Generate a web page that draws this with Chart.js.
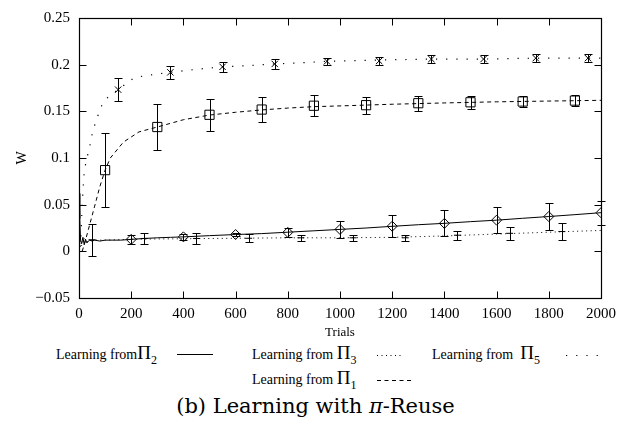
<!DOCTYPE html>
<html><head><meta charset="utf-8">
<script src="https://cdn.jsdelivr.net/npm/chart.js@4.4.1/dist/chart.umd.min.js"></script>
<style>
html,body{margin:0;padding:0;background:#fff;}
#wrap{position:relative;width:631px;height:427px;overflow:hidden;background:#fff;}
canvas{position:absolute;left:0;top:0;}
.lg{position:absolute;font-family:"Liberation Serif","Times New Roman",serif;font-size:14px;color:#000;white-space:nowrap;line-height:20px;height:20px;}
.pi{font-size:19px;}
.sub{font-size:12px;position:relative;top:5px;}
svg.smp{position:absolute;overflow:visible;}
#cap{position:absolute;left:0;width:631px;text-align:center;top:393px;font-family:"DejaVu Serif",serif;font-size:21px;color:#000;line-height:26px;}
</style></head>
<body>
<div id="wrap">
<canvas id="c" width="631" height="340"></canvas>
<div class="lg" style="left:56px;top:343px;">Learning from<span class="pi">Π</span><span class="sub">2</span></div>
<svg class="smp" style="left:177px;top:354px;" width="36" height="2"><line x1="0" y1="0.5" x2="36" y2="0.5" stroke="#000" stroke-width="1"/></svg>
<div class="lg" style="left:252px;top:343px;">Learning from <span class="pi">Π</span><span class="sub">3</span></div>
<svg class="smp" style="left:377px;top:355px;" width="26" height="2"><line x1="0" y1="0.5" x2="26" y2="0.5" stroke="#000" stroke-width="1" stroke-dasharray="1,3.5"/></svg>
<div class="lg" style="left:432px;top:343px;">Learning from &nbsp;<span class="pi">Π</span><span class="sub">5</span></div>
<svg class="smp" style="left:566px;top:355px;" width="36" height="2"><line x1="0" y1="0.5" x2="36" y2="0.5" stroke="#000" stroke-width="1.2" stroke-dasharray="1.2,9"/></svg>
<div class="lg" style="left:252px;top:368px;">Learning from <span class="pi">Π</span><span class="sub">1</span></div>
<svg class="smp" style="left:377px;top:380px;" width="36" height="2"><line x1="0" y1="0.5" x2="36" y2="0.5" stroke="#000" stroke-width="1" stroke-dasharray="4,3.5"/></svg>
<div id="cap">(b) Learning with <i>π</i>-Reuse</div>
</div>
<script>
// ---- tick labels ----
const xTickLabels = ["0","200","400","600","800","1000","1200","1400","1600","1800","2000"];
const yTickLabels = ["\u22120.05","0","0.05","0.1","0.15","0.2","0.25"];

// ---- Learning from Π2 (solid line, diamonds) ----
const pi2LineX = [0, 3, 6, 10, 15, 20, 25, 30, 40, 50, 60, 80, 100, 130, 160, 200, 250, 300, 350, 400, 500, 600, 700, 800, 900, 1000, 1100, 1200, 1300, 1400, 1500, 1600, 1700, 1800, 1900, 2000];
const pi2LineY = [0.062, 0.035, 0.012, 0.008, 0.015, 0.007, 0.013, 0.009, 0.012, 0.011, 0.012, 0.011, 0.012, 0.012, 0.012, 0.0128, 0.0138, 0.0145, 0.015, 0.0155, 0.0168, 0.018, 0.019, 0.0205, 0.022, 0.0235, 0.025, 0.0268, 0.0285, 0.030, 0.0318, 0.0334, 0.0354, 0.0373, 0.0393, 0.0414];
const pi2MarkX = [200, 400, 600, 800, 1000, 1200, 1400, 1600, 1800, 2000];
const pi2MarkY = [0.0128, 0.0155, 0.018, 0.0203, 0.0235, 0.0269, 0.030, 0.0334, 0.0373, 0.0414];
const pi2Err   = [0.005, 0.003, 0.002, 0.005, 0.009, 0.012, 0.014, 0.014, 0.014, 0.013];

// ---- Learning from Π3 (fine dotted line, + markers) ----
const pi3LineX = [0, 5, 10, 20, 30, 50, 100, 200, 400, 600, 800, 1000, 1200, 1400, 1600, 1800, 2000];
const pi3LineY = [0.003, 0.012, 0.006, 0.014, 0.010, 0.012, 0.012, 0.013, 0.0135, 0.014, 0.0145, 0.0145, 0.015, 0.0165, 0.0185, 0.0205, 0.0224];
const pi3MarkX = [50, 250, 450, 650, 850, 1050, 1250, 1450, 1650, 1850];
const pi3MarkY = [0.0124, 0.0138, 0.0138, 0.014, 0.0145, 0.0145, 0.0145, 0.0173, 0.0193, 0.0212];
const pi3Err   = [0.017, 0.0057, 0.006, 0.0045, 0.003, 0.003, 0.003, 0.005, 0.007, 0.009];

// ---- Learning from Π1 (dashed line, squares) ----
const pi1LineX = [12, 20, 27, 40, 60, 80, 100, 120, 170, 230, 300, 400, 500, 600, 700, 800, 900, 1000, 1200, 1400, 1600, 1800, 2000];
const pi1LineY = [0.0, 0.007, 0.014, 0.0276, 0.0485, 0.0695, 0.087, 0.100, 0.117, 0.128, 0.1332, 0.141, 0.146, 0.149, 0.1515, 0.1535, 0.155, 0.1558, 0.1576, 0.159, 0.1602, 0.161, 0.1618];
const pi1MarkX = [100, 300, 500, 700, 900, 1100, 1300, 1500, 1700, 1900];
const pi1MarkY = [0.087, 0.1332, 0.1463, 0.1519, 0.156, 0.1566, 0.1587, 0.1597, 0.1605, 0.1615];
const pi1Err   = [0.04, 0.025, 0.017, 0.013, 0.011, 0.009, 0.008, 0.007, 0.006, 0.006];

// ---- Learning from Π5 (sparse dotted line, x markers) ----
const pi5LineX = [5, 8, 12, 20, 30, 40, 46, 65, 91, 114, 150, 187, 211, 250, 300, 350, 450, 550, 650, 750, 850, 950, 1150, 1350, 1550, 1750, 1950, 2000];
const pi5LineY = [0.005, 0.02, 0.05, 0.086, 0.100, 0.110, 0.121, 0.140, 0.159, 0.166, 0.1732, 0.181, 0.186, 0.188, 0.190, 0.1918, 0.195, 0.1977, 0.199, 0.2008, 0.202, 0.2036, 0.205, 0.206, 0.206, 0.207, 0.207, 0.207];
const pi5MarkX = [150, 350, 550, 750, 950, 1150, 1350, 1550, 1750, 1950];
const pi5MarkY = [0.1732, 0.1918, 0.1977, 0.2008, 0.2036, 0.204, 0.206, 0.206, 0.207, 0.207];
const pi5Err   = [0.012, 0.007, 0.0055, 0.005, 0.004, 0.004, 0.004, 0.004, 0.004, 0.004];

const pts = (xs, ys) => xs.map((x, i) => ({x: x, y: ys[i]}));

const lineDs = (xs, ys, dash, w) => ({
  data: pts(xs, ys), showLine: true, borderColor: '#000', borderWidth: w || 1,
  borderDash: dash, pointRadius: 0, tension: 0, fill: false
});
const markDs = (xs, ys, errs, style, r) => ({
  data: pts(xs, ys), showLine: false, errors: errs,
  pointStyle: style, pointRadius: r, pointBorderColor: '#000',
  pointBackgroundColor: 'rgba(0,0,0,0)', pointBorderWidth: 1
});

const errorBars = {
  id: 'errorBars',
  afterDatasetsDraw(chart) {
    const ctx = chart.ctx, xs = chart.scales.x, ys = chart.scales.y;
    ctx.save();
    ctx.strokeStyle = '#000'; ctx.lineWidth = 1;
    chart.data.datasets.forEach(ds => {
      if (!ds.errors) return;
      ds.data.forEach((p, j) => {
        const e = ds.errors[j];
        const px = Math.round(xs.getPixelForValue(p.x)) + 0.5;
        const y1 = Math.round(ys.getPixelForValue(p.y - e)) + 0.5;
        const y2 = Math.round(ys.getPixelForValue(p.y + e)) + 0.5;
        ctx.beginPath();
        ctx.moveTo(px, y1); ctx.lineTo(px, y2);
        ctx.moveTo(px - 4, y1); ctx.lineTo(px + 4, y1);
        ctx.moveTo(px - 4, y2); ctx.lineTo(px + 4, y2);
        ctx.stroke();
      });
    });
    ctx.restore();
  }
};

const frame = {
  id: 'frame',
  afterDraw(chart) {
    const ctx = chart.ctx, a = chart.chartArea, xs = chart.scales.x, ys = chart.scales.y;
    const L = Math.round(a.left) + 0.5, R = Math.round(a.right) + 0.5;
    const T = Math.round(a.top) + 0.5, B = Math.round(a.bottom) + 0.5;
    ctx.save();
    ctx.strokeStyle = '#000'; ctx.lineWidth = 1.2;
    ctx.strokeRect(L, T, R - L, B - T);
    ctx.lineWidth = 1;
    ctx.beginPath();
    xs.ticks.forEach(t => {
      const px = Math.round(xs.getPixelForValue(t.value)) + 0.5;
      ctx.moveTo(px, B); ctx.lineTo(px, B - 7);
      ctx.moveTo(px, T); ctx.lineTo(px, T + 7);
    });
    ys.ticks.forEach(t => {
      const py = Math.round(ys.getPixelForValue(t.value)) + 0.5;
      ctx.moveTo(L, py); ctx.lineTo(L + 7, py);
      ctx.moveTo(R, py); ctx.lineTo(R - 7, py);
    });
    ctx.stroke();
    ctx.restore();
  }
};

const serif = '"Liberation Serif", "Times New Roman", serif';

new Chart(document.getElementById('c'), {
  type: 'scatter',
  data: {
    datasets: [
      lineDs(pi2LineX, pi2LineY, [], 1),
      markDs(pi2MarkX, pi2MarkY, pi2Err, 'rectRot', 5),
      lineDs(pi3LineX, pi3LineY, [1, 3.5], 1),
      markDs(pi3MarkX, pi3MarkY, pi3Err, 'line', 3.5),
      lineDs(pi1LineX, pi1LineY, [4, 3.5], 1),
      markDs(pi1MarkX, pi1MarkY, pi1Err, 'rect', 6.5),
      lineDs(pi5LineX, pi5LineY, [1.2, 9], 1.2),
      markDs(pi5MarkX, pi5MarkY, pi5Err, 'crossRot', 4.5)
    ]
  },
  options: {
    responsive: false,
    animation: false,
    events: [],
    layout: { padding: { left: 0, right: 30, top: 8, bottom: 0 } },
    plugins: { legend: { display: false }, tooltip: { enabled: false } },
    scales: {
      x: {
        type: 'linear', min: 0, max: 2000,
        grid: { display: false, drawTicks: false },
        border: { display: false },
        ticks: {
          stepSize: 200, padding: 7, color: '#000', maxRotation: 0,
          font: { family: serif, size: 15 },
          callback: (v) => xTickLabels[Math.round(v / 200)]
        },
        title: { display: true, text: 'Trials', color: '#000', font: { family: serif, size: 13 }, padding: { top: 0, bottom: 0 } },
        afterFit: (s) => { s.height = 42; }
      },
      y: {
        type: 'linear', min: -0.05, max: 0.25,
        grid: { display: false, drawTicks: false },
        border: { display: false },
        ticks: {
          stepSize: 0.05, padding: 9, color: '#000',
          font: { family: serif, size: 15 },
          callback: (v) => yTickLabels[Math.round((v + 0.05) / 0.05)]
        },
        title: { display: true, text: 'W', color: '#000', font: { family: serif, size: 14 }, padding: { top: 14, bottom: 0 } },
        afterFit: (s) => { s.width = 79; }
      }
    }
  },
  plugins: [errorBars, frame]
});
</script>
</body></html>
